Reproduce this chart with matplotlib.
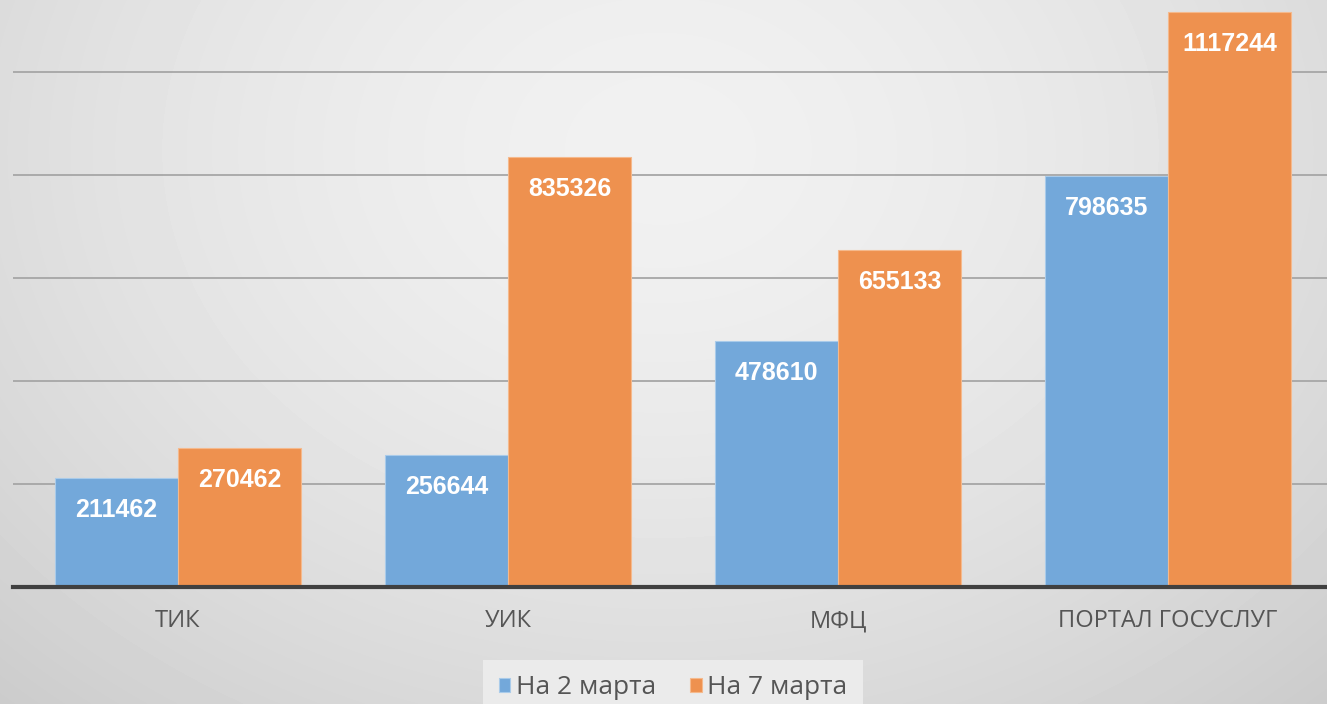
import numpy as np
import matplotlib.pyplot as plt
import matplotlib.ticker as ticker

categories = ['ТИК', 'УИК', 'МФЦ', 'ПОРТАЛ ГОСУСЛУГ']
march2 = [211462, 256644, 478610, 798635]
march7 = [270462, 835326, 655133, 1117244]
series_names = ['На 2 марта', 'На 7 марта']

blue = '#73a8da'
orange = '#ee914f'

fig = plt.figure(figsize=(13.27, 7.04), dpi=100)

# radial gradient background
bg = fig.add_axes([0, 0, 1, 1])
yy, xx = np.mgrid[0:704, 0:1327]
r = np.sqrt(((xx - 660) / 900.0) ** 2 + ((yy - 150) / 700.0) ** 2)
shade = 0.945 - 0.13 * np.clip(r, 0, 1.2) ** 1.6
bg.imshow(shade, cmap='gray', vmin=0, vmax=1, aspect='auto', extent=[0, 1, 0, 1])
bg.set_xlim(0, 1)
bg.set_ylim(0, 1)
bg.axis('off')

ax = fig.add_axes([13 / 1327, 117 / 704, 1320 / 1327, 587 / 704])
ax.patch.set_alpha(0)

x = np.arange(len(categories))
w = 0.373
b1 = ax.bar(x - w / 2, march2, w, color=blue, edgecolor='#a9cbea', linewidth=0.8,
            label=series_names[0], zorder=3)
b2 = ax.bar(x + w / 2, march7, w, color=orange, edgecolor='#f5b98c', linewidth=0.8,
            label=series_names[1], zorder=3)

for bars in (b1, b2):
    for rect in bars:
        h = rect.get_height()
        ax.annotate(str(int(h)), (rect.get_x() + rect.get_width() / 2, h),
                    xytext=(0, -32), textcoords='offset pixels',
                    ha='center', va='center', color='white', fontsize=18,
                    fontweight='bold', family='Liberation Sans', zorder=4)

ax.set_xlim(-0.5, 3.5)
ax.set_ylim(0, 1140000)
ax.yaxis.set_major_locator(ticker.MultipleLocator(200000))
ax.grid(axis='y', color='#a6a6a6', linewidth=1.3, zorder=0)
ax.set_axisbelow(True)
ax.set_yticklabels([])
ax.tick_params(axis='y', length=0)
ax.tick_params(axis='x', length=0, pad=16)
ax.set_xticks(x)
ax.set_xticklabels(categories, fontsize=17, color='#555555', family='Open Sans')
for s in ['top', 'right', 'left']:
    ax.spines[s].set_visible(False)
ax.spines['bottom'].set_color('#404040')
ax.spines['bottom'].set_linewidth(3)
ax.spines['bottom'].set_zorder(5)

leg = fig.legend(handles=[b1, b2], loc='center', bbox_to_anchor=(673 / 1327, 16 / 704),
                 ncol=2, frameon=True, handlelength=0.45, handleheight=0.45,
                 handletextpad=0.2, columnspacing=1.3, borderpad=0.6,
                 prop={'family': 'Open Sans', 'size': 19})
leg.get_frame().set_facecolor('#ebebeb')
leg.get_frame().set_edgecolor('none')
leg.get_frame().set_alpha(1)
leg.get_frame().set_boxstyle('square', pad=0)
for t in leg.get_texts():
    t.set_color('#555555')

fig.savefig('out.png', dpi=100)
